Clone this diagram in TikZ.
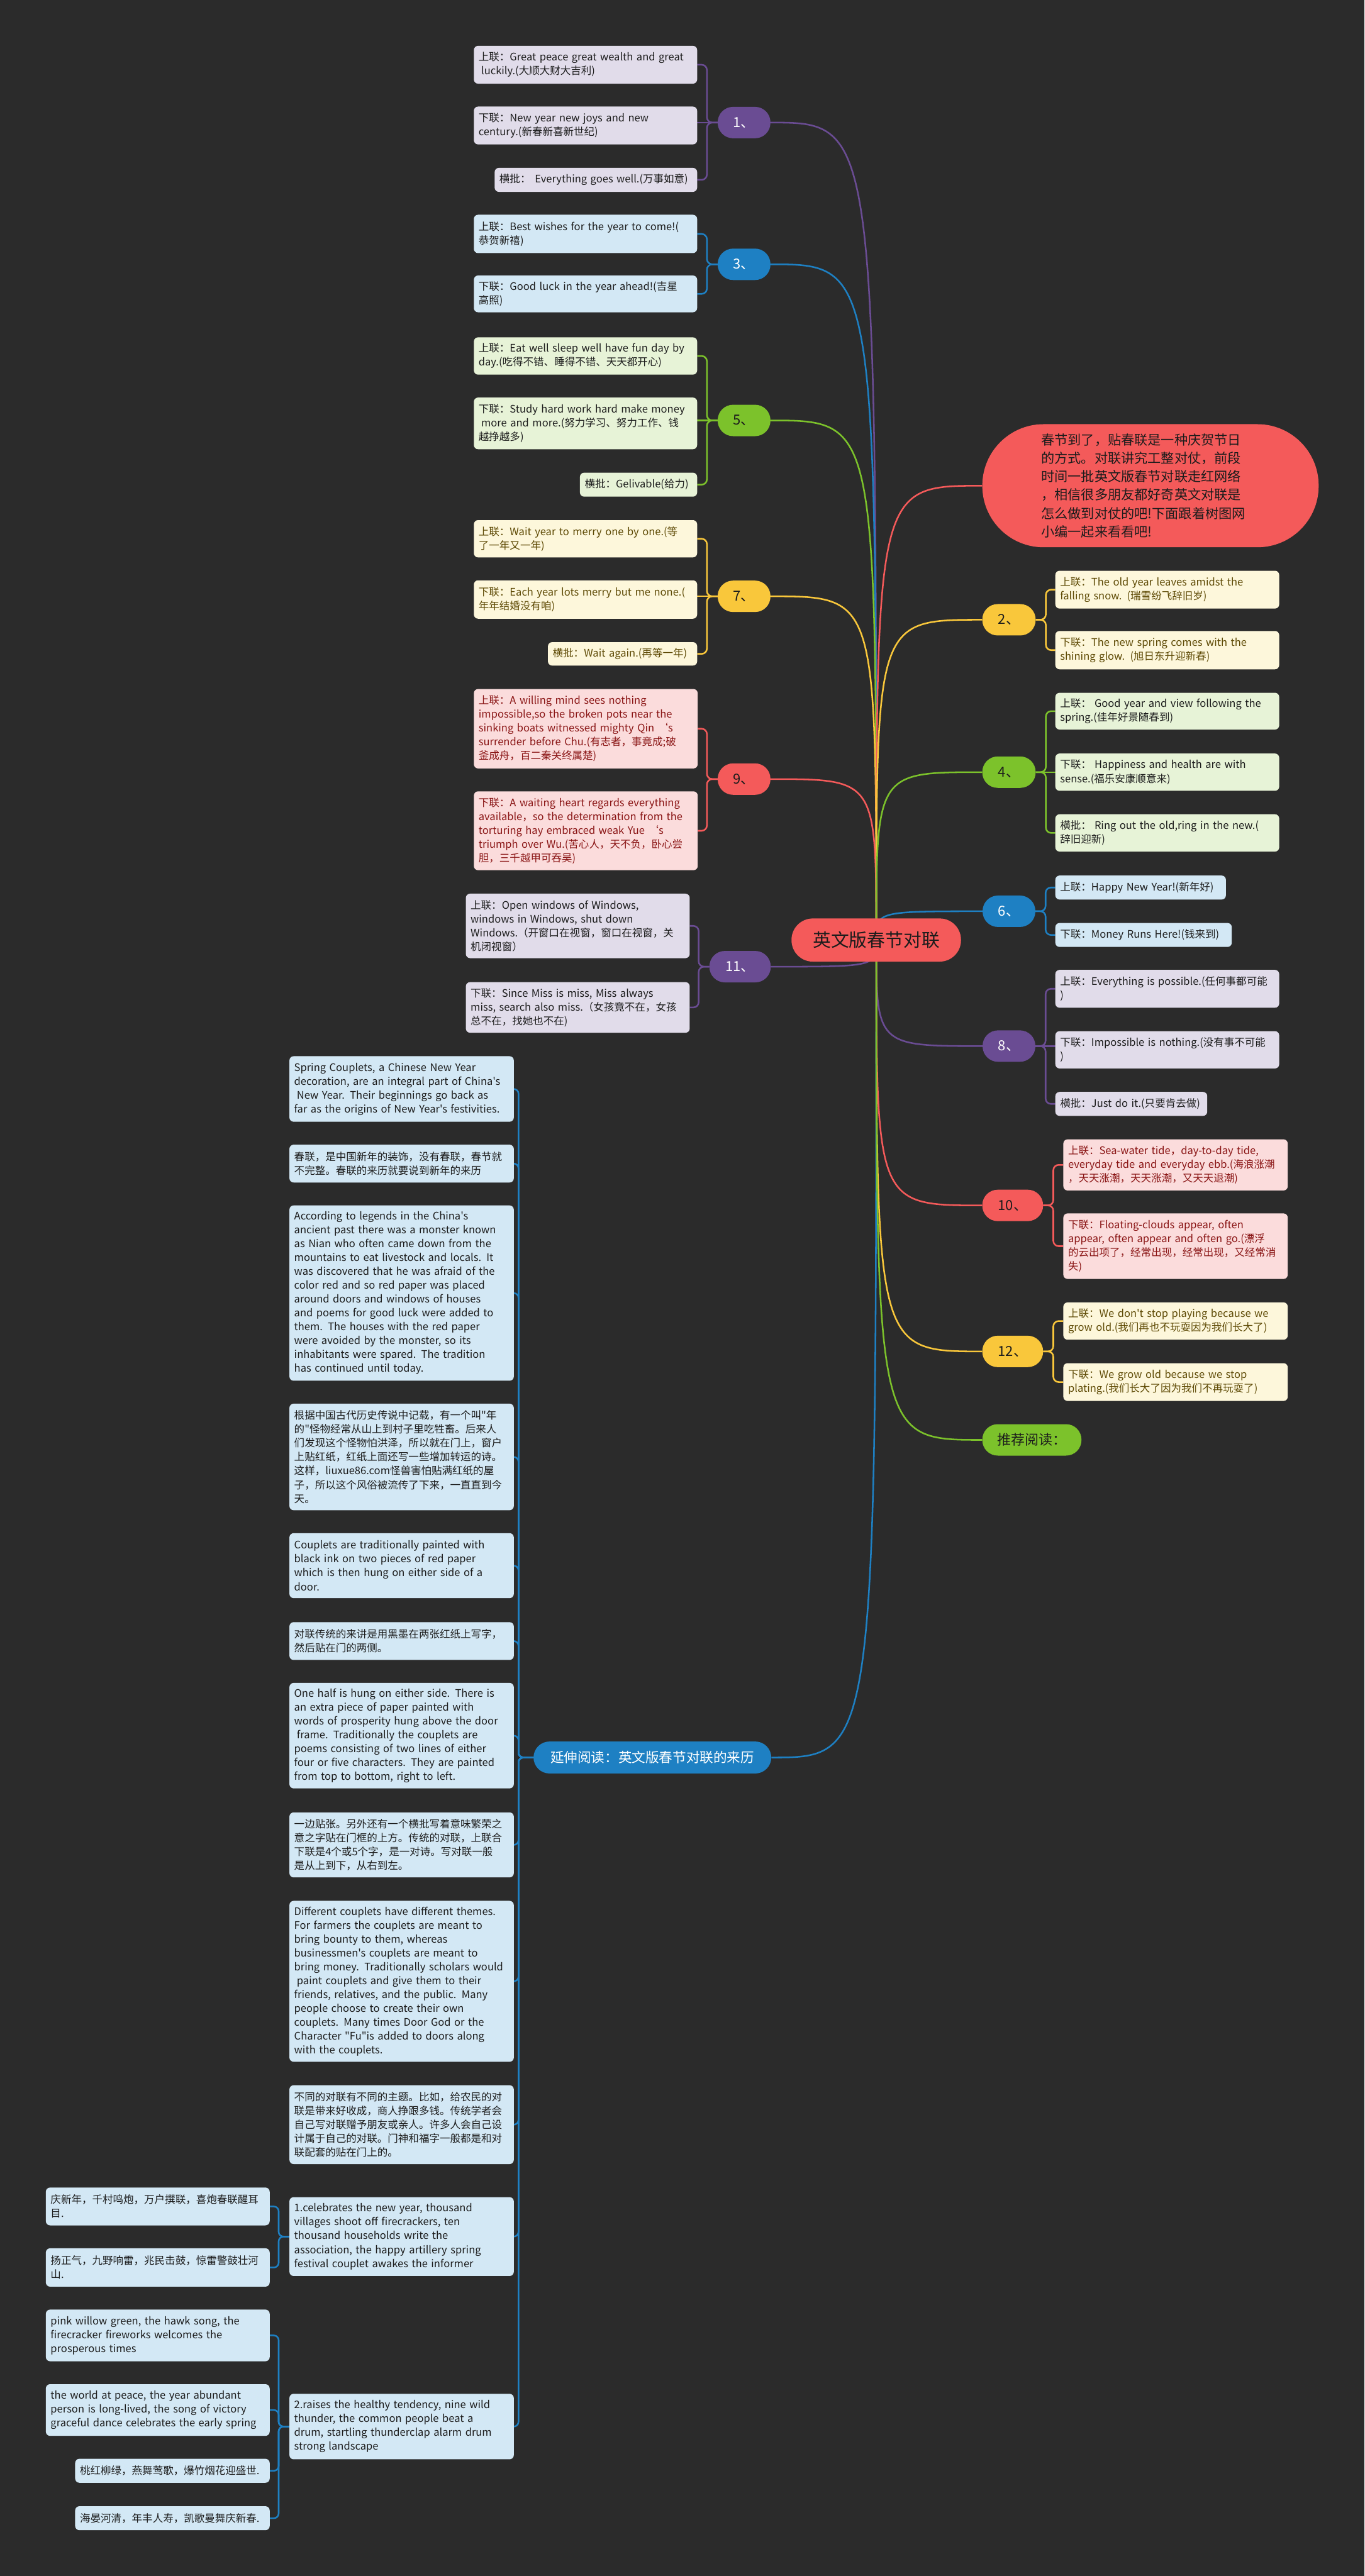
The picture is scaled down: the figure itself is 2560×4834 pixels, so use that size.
\documentclass[tikz,border=0pt]{standalone}
\usepackage{fontspec}
\setmainfont{Noto Sans CJK SC}[Ligatures=TeXOff]
\usetikzlibrary{calc}
\pgfdeclarelayer{bgl}
\pgfdeclarelayer{edges}
\pgfsetlayers{bgl,edges,main}
\definecolor{bgc}{HTML}{2B2B2B}
\definecolor{pur}{HTML}{6A4C93}
\definecolor{purl}{HTML}{E1DCEA}
\definecolor{blu}{HTML}{1E80C3}
\definecolor{blul}{HTML}{D3E8F5}
\definecolor{grn}{HTML}{7CC22B}
\definecolor{grnl}{HTML}{E7F3D7}
\definecolor{yel}{HTML}{F9C73B}
\definecolor{yell}{HTML}{FDF7DB}
\definecolor{yelt}{HTML}{5E4A05}
\definecolor{rd}{HTML}{F45A5A}
\definecolor{rdl}{HTML}{FBDCDC}
\definecolor{rdt}{HTML}{8A1515}
\definecolor{txt}{HTML}{1C1C1C}
\newcommand\leaffnt{\fontsize{19.5}{26}\selectfont}
\newcommand\brfnt{\fontsize{26}{30}\selectfont}
\tikzset{
  leaf/.style={rounded corners=8pt, inner xsep=9pt, inner ysep=3pt, align=left, font=\leaffnt, text=txt},
  pbox/.style={leaf, fill=purl},
  bbox/.style={leaf, fill=blul},
  gbox/.style={leaf, fill=grnl},
  ybox/.style={leaf, fill=yell, text=yelt},
  rbox/.style={leaf, fill=rdl, text=rdt},
  branch/.style={rounded corners=29pt, minimum height=59pt, minimum width=99pt, inner sep=0pt, font=\brfnt},
  conn/.style={line width=3pt},
  brk/.style={line width=3pt, rounded corners=10pt},
  brkl/.style={line width=3pt, rounded corners=9pt},
}
\begin{document}
\begin{tikzpicture}[x=1pt,y=-1pt]
\begin{pgfonlayer}{bgl}
\fill[bgc] (0,0) rectangle (2560,4834);
\end{pgfonlayer}
\useasboundingbox (0,0) rectangle (2560,4834);

% ---------- main and intro ----------
\node[rounded corners=40pt, fill=rd, minimum width=318pt, minimum height=81pt, inner sep=0pt, font=\fontsize{34}{40}\selectfont, text=txt] (main) at (1644,1764) {英文版春节对联};
\node[rounded corners=115pt, fill=rd, minimum width=631pt, minimum height=231pt, inner sep=0pt, text width=410pt, align=left, font=\fontsize{25}{34.5}\selectfont, text=txt] (intro) at (2158.5,911.5) {春节到了，贴春联是一种庆贺节日\\的方式。对联讲究工整对仗，前段\\时间一批英文版春节对联走红网络\\，相信很多朋友都好奇英文对联是\\怎么做到对仗的吧!下面跟着树图网\\小编一起来看看吧!};

% ---------- left branch nodes ----------
\node[branch, fill=pur, text=white] (n1) at (1396,230) {1、};
\node[branch, fill=blu, text=white] (n3) at (1396,496) {3、};
\node[branch, fill=grn, text=txt] (n5) at (1396,789) {5、};
\node[branch, fill=yel, text=txt] (n7) at (1396,1119) {7、};
\node[branch, fill=rd, text=txt] (n9) at (1396,1462) {9、};
\node[branch, fill=pur, text=white, minimum width=115pt] (n11) at (1388.5,1814) {11、};

% ---------- right branch nodes ----------
\node[branch, fill=yel, text=txt, minimum width=100pt] (n2) at (1893,1163) {2、};
\node[branch, fill=grn, text=txt, minimum width=100pt] (n4) at (1893,1449) {4、};
\node[branch, fill=blu, text=white] (n6) at (1893,1710) {6、};
\node[branch, fill=pur, text=white] (n8) at (1893,1963) {8、};
\node[branch, fill=rd, text=txt, minimum width=114pt] (n10) at (1900,2262) {10、};
\node[branch, fill=yel, text=txt, minimum width=114pt] (n12) at (1900,2536) {12、};
\node[branch, fill=grn, text=txt, minimum width=186pt] (tj) at (1936,2702) {推荐阅读：};
\node[branch, fill=blu, text=white, minimum width=446pt, minimum height=60pt, rounded corners=30pt, font=\fontsize{25.5}{30}\selectfont] (yan) at (1224,3298) {延伸阅读：英文版春节对联的来历};

% ---------- leaves of 1 ----------
\node[pbox, text width=401pt, minimum height=71pt] (a1a) at (1098.5,121.5) {上联：Great peace great wealth and great\\\hspace*{5pt}luckily.(大顺大财大吉利)};
\node[pbox, text width=401pt, minimum height=71pt] (a1b) at (1098.5,235.5) {下联：New year new joys and new\\century.(新春新喜新世纪)};
\node[pbox, text width=362pt, minimum height=45pt] (a1c) at (1118,337.5) {横批：\hspace*{8pt}Everything goes well.(万事如意)};
% ---------- leaves of 3 ----------
\node[bbox, text width=401pt, minimum height=72pt] (a3a) at (1098.5,439) {上联：Best wishes for the year to come!(\\恭贺新禧)};
\node[bbox, text width=401pt, minimum height=69pt] (a3b) at (1098.5,551.5) {下联：Good luck in the year ahead!(吉星\\高照)};
% ---------- leaves of 5 ----------
\node[gbox, text width=401pt, minimum height=70pt] (a5a) at (1098.5,668) {上联：Eat well sleep well have fun day by\\day.(吃得不错、睡得不错、天天都开心)};
\node[gbox, text width=401pt, minimum height=97pt] (a5b) at (1098.5,794.5) {下联：Study hard work hard make money\\\hspace*{5pt}more and more.(努力学习、努力工作、钱\\越挣越多)};
\node[gbox, text width=202pt, minimum height=45pt] (a5c) at (1198,909.5) {横批：Gelivable(给力)};
% ---------- leaves of 7 ----------
\node[ybox, text width=401pt, minimum height=70pt] (a7a) at (1098.5,1011) {上联：Wait year to merry one by one.(等\\了一年又一年)};
\node[ybox, text width=401pt, minimum height=72pt] (a7b) at (1098.5,1125) {下联：Each year lots merry but me none.(\\年年结婚没有咱)};
\node[ybox, text width=262pt, minimum height=44pt] (a7c) at (1168,1227) {横批：Wait again.(再等一年)};
% ---------- leaves of 9 ----------
\node[rbox, text width=402pt, minimum height=149pt] (a9a) at (1099,1367.5) {上联：A willing mind sees nothing\\impossible,so the broken pots near the\\sinking boats witnessed mighty Qin ‘s\\surrender before Chu.(有志者，事竟成;破\\釜成舟，百二秦关终属楚)};
\node[rbox, text width=402pt, minimum height=148pt] (a9b) at (1099,1559) {下联：A waiting heart regards everything\\available，so the determination from the\\torturing hay embraced weak Yue ‘s\\triumph over Wu.(苦心人，天不负，卧心尝\\胆，三千越甲可吞吴)};
% ---------- leaves of 11 ----------
\node[pbox, text width=402pt, minimum height=121pt] (a11a) at (1084,1737.5) {上联：Open windows of Windows,\\windows in Windows, shut down\\Windows.（开窗口在视窗，窗口在视窗，关\\机闭视窗）};
\node[pbox, text width=402pt, minimum height=95pt] (a11b) at (1084,1890.5) {下联：Since Miss is miss, Miss always\\miss, search also miss.（女孩竟不在，女孩\\总不在，找她也不在)};

% ---------- leaves of 2 ----------
\node[ybox, text width=402pt, minimum height=71pt] (b2a) at (2190,1106.5) {上联：The old year leaves amidst the\\falling snow. (瑞雪纷飞辞旧岁)};
\node[ybox, text width=402pt, minimum height=72pt] (b2b) at (2190,1220) {下联：The new spring comes with the\\shining glow. (旭日东升迎新春)};
% ---------- leaves of 4 ----------
\node[gbox, text width=402pt, minimum height=69pt] (b4a) at (2190,1334.5) {上联：\hspace*{6pt}Good year and view following the\\spring.(佳年好景随春到)};
\node[gbox, text width=402pt, minimum height=70pt] (b4b) at (2190,1449) {下联：\hspace*{6pt}Happiness and health are with\\sense.(福乐安康顺意来)};
\node[gbox, text width=402pt, minimum height=70pt] (b4c) at (2190,1563) {横批：\hspace*{6pt}Ring out the old,ring in the new.(\\辞旧迎新)};
% ---------- leaves of 6 ----------
\node[bbox, text width=302pt, minimum height=45pt] (b6a) at (2140,1665.5) {上联：Happy New Year!(新年好)};
\node[bbox, text width=313pt, minimum height=45pt] (b6b) at (2145.5,1754.5) {下联：Money Runs Here!(钱来到)};
% ---------- leaves of 8 ----------
\node[pbox, text width=402pt, minimum height=71pt] (b8a) at (2190,1855.5) {上联：Everything is possible.(任何事都可能\\)};
\node[pbox, text width=402pt, minimum height=70pt] (b8b) at (2190,1970) {下联：Impossible is nothing.(没有事不可能\\)};
\node[pbox, text width=267pt, minimum height=45pt] (b8c) at (2122.5,2071.5) {横批：Just do it.(只要肯去做)};
% ---------- leaves of 10 ----------
\node[rbox, text width=403pt, minimum height=96pt] (b10a) at (2205.5,2186) {上联：Sea-water tide，day-to-day tide,\\everyday tide and everyday ebb.(海浪涨潮\\，天天涨潮，天天涨潮，又天天退潮)};
\node[rbox, text width=403pt, minimum height=123pt] (b10b) at (2205.5,2338.5) {下联：Floating-clouds appear, often\\appear, often appear and often go.(漂浮\\的云出项了，经常出现，经常出现，又经常消\\失)};
% ---------- leaves of 12 ----------
\node[ybox, text width=403pt, minimum height=70pt] (b12a) at (2205.5,2479) {上联：We don't stop playing because we\\grow old.(我们再也不玩耍因为我们长大了)};
\node[ybox, text width=403pt, minimum height=71pt] (b12b) at (2205.5,2593.5) {下联：We grow old because we stop\\plating.(我们长大了因为我们不再玩耍了)};

% ---------- left column ----------
\node[bbox, text width=403pt, minimum height=123pt] (L1) at (753.5,2043.5) {Spring Couplets, a Chinese New Year\\decoration, are an integral part of China's\\\hspace*{5pt}New Year. Their beginnings go back as\\far as the origins of New Year's festivities.};
\node[bbox, text width=403pt, minimum height=71pt] (L2) at (753.5,2183.5) {春联，是中国新年的装饰，没有春联，春节就\\不完整。春联的来历就要说到新年的来历};
\node[bbox, text width=403pt, minimum height=329pt] (L3) at (753.5,2426.5) {According to legends in the China's\\ancient past there was a monster known\\as Nian who often came down from the\\mountains to eat livestock and locals. It\\was discovered that he was afraid of the\\color red and so red paper was placed\\around doors and windows of houses\\and poems for good luck were added to\\them. The houses with the red paper\\were avoided by the monster, so its\\inhabitants were spared. The tradition\\has continued until today.};
\node[bbox, text width=403pt, minimum height=200pt] (L4) at (753.5,2734) {根据中国古代历史传说中记载，有一个叫"年\\的"怪物经常从山上到村子里吃牲畜。后来人\\们发现这个怪物怕洪泽，所以就在门上，窗户\\上贴红纸，红纸上面还写一些增加转运的诗。\\这样，liuxue86.com怪兽害怕贴满红纸的屋\\子，所以这个风俗被流传了下来，一直直到今\\天。};
\node[bbox, text width=403pt, minimum height=122pt] (L5) at (753.5,2938) {Couplets are traditionally painted with\\black ink on two pieces of red paper\\which is then hung on either side of a\\door.};
\node[bbox, text width=403pt, minimum height=71pt] (L6) at (753.5,3079.5) {对联传统的来讲是用黑墨在两张红纸上写字，\\然后贴在门的两侧。};
\node[bbox, text width=403pt, minimum height=198pt] (L7) at (753.5,3257) {One half is hung on either side. There is\\an extra piece of paper painted with\\words of prosperity hung above the door\\\hspace*{5pt}frame. Traditionally the couplets are\\poems consisting of two lines of either\\four or five characters. They are painted\\from top to bottom, right to left.};
\node[bbox, text width=403pt, minimum height=122pt] (L8) at (753.5,3462) {一边贴张。另外还有一个横批写着意味繁荣之\\意之字贴在门框的上方。传统的对联，上联合\\下联是4个或5个字，是一对诗。写对联一般\\是从上到下，从右到左。};
\node[bbox, text width=403pt, minimum height=302pt] (L9) at (753.5,3718) {Different couplets have different themes.\\For farmers the couplets are meant to\\bring bounty to them, whereas\\businessmen's couplets are meant to\\bring money. Traditionally scholars would\\\hspace*{5pt}paint couplets and give them to their\\friends, relatives, and the public. Many\\people choose to create their own\\couplets. Many times Door God or the\\Character "Fu"is added to doors along\\with the couplets.};
\node[bbox, text width=403pt, minimum height=148pt] (L10) at (753.5,3987) {不同的对联有不同的主题。比如，给农民的对\\联是带来好收成，商人挣跟多钱。传统学者会\\自己写对联赠予朋友或亲人。许多人会自己设\\计属于自己的对联。门神和福字一般都是和对\\联配套的贴在门上的。};
\node[bbox, text width=403pt, minimum height=148pt] (L11) at (753.5,4197) {1.celebrates the new year, thousand\\villages shoot off firecrackers, ten\\thousand households write the\\association, the happy artillery spring\\festival couplet awakes the informer};
\node[bbox, text width=403pt, minimum height=123pt] (L12) at (753.5,4553.5) {2.raises the healthy tendency, nine wild\\thunder, the common people beat a\\drum, startling thunderclap alarm drum\\strong landscape};
% ---------- bottom leaves ----------
\node[bbox, text width=402pt, minimum height=71pt] (B1) at (296,4140.5) {庆新年，千村鸣炮，万户撰联，喜炮春联醒耳\\目.};
\node[bbox, text width=402pt, minimum height=72pt] (B2) at (296,4255) {扬正气，九野响雷，兆民击鼓，惊雷警鼓壮河\\山.};
\node[bbox, text width=402pt, minimum height=97pt] (B3) at (296,4382.5) {pink willow green, the hawk song, the\\firecracker fireworks welcomes the\\prosperous times};
\node[bbox, text width=402pt, minimum height=97pt] (B4) at (296,4522.5) {the world at peace, the year abundant\\person is long-lived, the song of victory\\graceful dance celebrates the early spring};
\node[bbox, text width=347pt, minimum height=45pt] (B5) at (323.5,4636.5) {桃红柳绿，燕舞莺歌，爆竹烟花迎盛世.};
\node[bbox, text width=347pt, minimum height=45pt] (B6) at (323.5,4725.5) {海晏河清，年丰人寿，凯歌曼舞庆新春.};

% ---------- connectors ----------
\begin{pgfonlayer}{edges}
% main curves, left
\draw[conn,pur] (main.center) .. controls (main.center |- n1.east) .. (n1.east);
\draw[conn,blu] (main.center) .. controls (main.center |- n3.east) .. (n3.east);
\draw[conn,grn] (main.center) .. controls (main.center |- n5.east) .. (n5.east);
\draw[conn,yel] (main.center) .. controls (main.center |- n7.east) .. (n7.east);
\draw[conn,rd] (main.center) .. controls (main.center |- n9.east) .. (n9.east);
\draw[conn,pur] (main.center) .. controls (main.center |- n11.east) .. (n11.east);
\draw[conn,blu] (main.center) .. controls (main.center |- yan.east) .. (yan.east);
% main curves, right
\draw[conn,rd] (main.center) .. controls (main.center |- intro.west) .. (intro.west);
\draw[conn,yel] (main.center) .. controls (main.center |- n2.west) .. (n2.west);
\draw[conn,grn] (main.center) .. controls (main.center |- n4.west) .. (n4.west);
\draw[conn,blu] (main.center) .. controls (main.center |- n6.west) .. (n6.west);
\draw[conn,pur] (main.center) .. controls (main.center |- n8.west) .. (n8.west);
\draw[conn,rd] (main.center) .. controls (main.center |- n10.west) .. (n10.west);
\draw[conn,yel] (main.center) .. controls (main.center |- n12.west) .. (n12.west);
\draw[conn,grn] (main.center) .. controls (main.center |- tj.west) .. (tj.west);
% brackets left
\draw[brk,pur] (n1.west) -- ++(-20,0) |- (a1a.east);
\draw[conn,pur] (n1.west) -- (n1.west -| a1b.east);
\draw[brk,pur] (n1.west) -- ++(-20,0) |- (a1c.east);
\draw[brk,blu] (n3.west) -- ++(-20,0) |- (a3a.east);
\draw[brk,blu] (n3.west) -- ++(-20,0) |- (a3b.east);
\draw[brk,grn] (n5.west) -- ++(-20,0) |- (a5a.east);
\draw[conn,grn] (n5.west) -- (n5.west -| a5b.east);
\draw[brk,grn] (n5.west) -- ++(-20,0) |- (a5c.east);
\draw[brk,yel] (n7.west) -- ++(-20,0) |- (a7a.east);
\draw[conn,yel] (n7.west) -- (n7.west -| a7b.east);
\draw[brk,yel] (n7.west) -- ++(-20,0) |- (a7c.east);
\draw[brk,rd] (n9.west) -- ++(-20,0) |- (a9a.east);
\draw[brk,rd] (n9.west) -- ++(-20,0) |- (a9b.east);
\draw[brk,pur] (n11.west) -- ++(-20,0) |- (a11a.east);
\draw[brk,pur] (n11.west) -- ++(-20,0) |- (a11b.east);
% brackets right
\draw[brk,yel] (n2.east) -- ++(19,0) |- (b2a.west);
\draw[brk,yel] (n2.east) -- ++(19,0) |- (b2b.west);
\draw[brk,grn] (n4.east) -- ++(19,0) |- (b4a.west);
\draw[conn,grn] (n4.east) -- (n4.east -| b4b.west);
\draw[brk,grn] (n4.east) -- ++(19,0) |- (b4c.west);
\draw[brk,blu] (n6.east) -- ++(19,0) |- (b6a.west);
\draw[brk,blu] (n6.east) -- ++(19,0) |- (b6b.west);
\draw[brk,pur] (n8.east) -- ++(19,0) |- (b8a.west);
\draw[conn,pur] (n8.east) -- (n8.east -| b8b.west);
\draw[brk,pur] (n8.east) -- ++(19,0) |- (b8c.west);
\draw[brk,rd] (n10.east) -- ++(19,0) |- (b10a.west);
\draw[brk,rd] (n10.east) -- ++(19,0) |- (b10b.west);
\draw[brk,yel] (n12.east) -- ++(19,0) |- (b12a.west);
\draw[brk,yel] (n12.east) -- ++(19,0) |- (b12b.west);
% left column
\foreach \k in {L1,L2,L3,L4,L5,L6,L7,L8,L9,L10,L11,L12}{
  \draw[brkl,blu] (yan.west) -- ++(-28,0) |- (\k.east);
}
\foreach \k in {B1,B2}{
  \draw[brkl,blu] (L11.west) -- ++(-20,0) |- (\k.east);
}
\foreach \k in {B3,B4,B5,B6}{
  \draw[brkl,blu] (L12.west) -- ++(-20,0) |- (\k.east);
}
\end{pgfonlayer}
\end{tikzpicture}
\end{document}
